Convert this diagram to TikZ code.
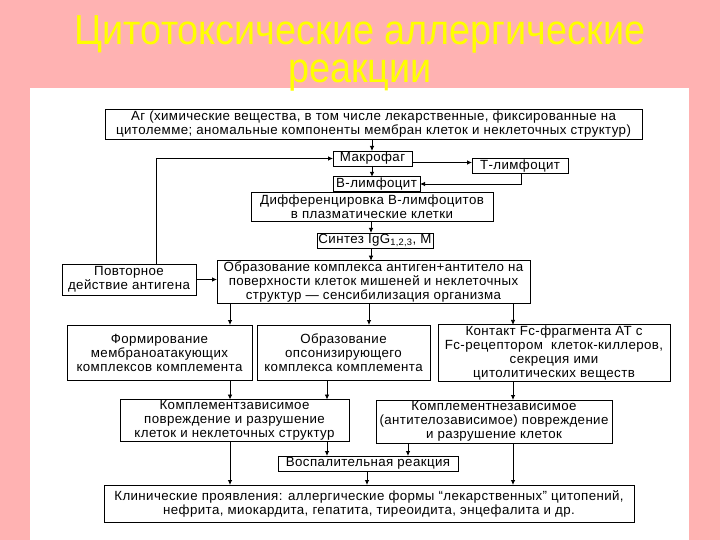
\documentclass[tikz,border=0pt]{standalone}
\usepackage{fontspec}
\usepackage{graphicx}
\setmainfont{Liberation Sans}
\newfontfamily\boxfont[LetterSpace=3]{Liberation Sans}
\usetikzlibrary{arrows.meta}
\definecolor{bgpink}{RGB}{255,178,178}
\definecolor{ttlyellow}{RGB}{255,255,0}
\tikzset{
  box/.style={draw=black, line width=0.9pt, fill=white, align=center, inner sep=1pt, outer sep=0pt,
    font=\boxfont\fontsize{13.3}{14}\selectfont},
  arr/.style={draw=black, line width=0.8pt, -{Latex[length=5pt,width=4.5pt]}},
  ttl/.style={text=ttlyellow, font=\fontsize{42}{38}\selectfont, inner sep=0pt, align=center}
}
\newcommand{\bx}[6]{\node[box, minimum width={(#4-#2)*1pt}, minimum height={(#5-#3)*1pt}] (#1) at ({(#2+#4)/2},{(#3+#5)/2}) {#6};}
\newcommand{\vlink}[3]{\draw[arr] (#1.south -| #3,0) -- (#2.north -| #3,0);}
\begin{document}
\begin{tikzpicture}[x=1pt,y=-1pt]
\useasboundingbox (0,0) rectangle (720,540);
\fill[bgpink] (0,0) rectangle (720,540);
\fill[white] (30,88) rectangle (689,540);
\node[ttl, anchor=base] (title) at (360,83) {\scalebox{0.9}[1]{Цитотоксические аллергические}\\\scalebox{0.9}[1]{реакции}};

\bx{ag}{105}{109}{642}{139}{Аг (химические вещества, в том числе лекарственные, фиксированные на\\цитолемме; аномальные компоненты мембран клеток и неклеточных структур)}
\bx{makro}{333}{151}{412}{166}{Макрофаг}
\bx{tly}{472}{159}{568}{173}{Т-лимфоцит}
\bx{bly}{333}{177}{420}{191}{В-лимфоцит}
\bx{diff}{251}{192}{493}{221}{Дифференцировка В-лимфоцитов\\в плазматические клетки}
\bx{sint}{317}{233}{433}{248}{Синтез IgG\textsubscript{1,2,3}, M}
\bx{povt}{62}{264}{196}{295}{Повторное\\действие антигена}
\bx{obr}{217}{262}{530}{302}{Образование комплекса антиген+антитело на\\поверхности клеток мишеней и неклеточных\\структур — сенсибилизация организма}
\bx{form}{67}{325}{252}{380}{Формирование\\мембраноатакующих\\комплексов комплемента}
\bx{opson}{257}{325}{430}{380}{Образование\\опсонизирующего\\комплекса комплемента}
\bx{kfc}{438}{326}{670}{380}{Контакт Fc-фрагмента АТ с\\Fc-рецептором\ \ клеток-киллеров,\\секреция ими\\цитолитических веществ}
\bx{kzav}{120}{400}{349}{441}{Комплементзависимое\\повреждение и разрушение\\клеток и неклеточных структур}
\bx{knez}{376}{400}{612}{443}{Комплементнезависимое\\(антителозависимое) повреждение\\и разрушение клеток}
\bx{vosp}{278}{456}{458}{471}{Воспалительная реакция}
\bx{klin}{104}{485}{634}{522}{Клинические проявления: аллергические формы “лекарственных” цитопений,\\нефрита, миокардита, гепатита, тиреоидита, энцефалита и др.}

\vlink{ag}{makro}{372}
\vlink{makro}{bly}{372}
\draw[arr] ([yshift=-4pt]makro.east) -- ([yshift=-4pt]makro.east -| tly.west);
\draw[arr] (tly.south -| 521,0) |- (bly.east);
\draw[arr] (povt.north -| 156,0) |- (makro.west);
\vlink{diff}{sint}{371}
\vlink{sint}{obr}{371}
\draw[arr] (povt.east) -- (povt.east -| obr.west);
\vlink{obr}{form}{230}
\vlink{obr}{opson}{369}
\vlink{obr}{kfc}{513}
\vlink{form}{kzav}{230}
\vlink{opson}{kzav}{327}
\vlink{kfc}{knez}{513}
\vlink{kzav}{klin}{230}
\vlink{kzav}{vosp}{327}
\vlink{knez}{vosp}{408}
\vlink{knez}{klin}{513}
\vlink{vosp}{klin}{367}
\end{tikzpicture}
\end{document}
